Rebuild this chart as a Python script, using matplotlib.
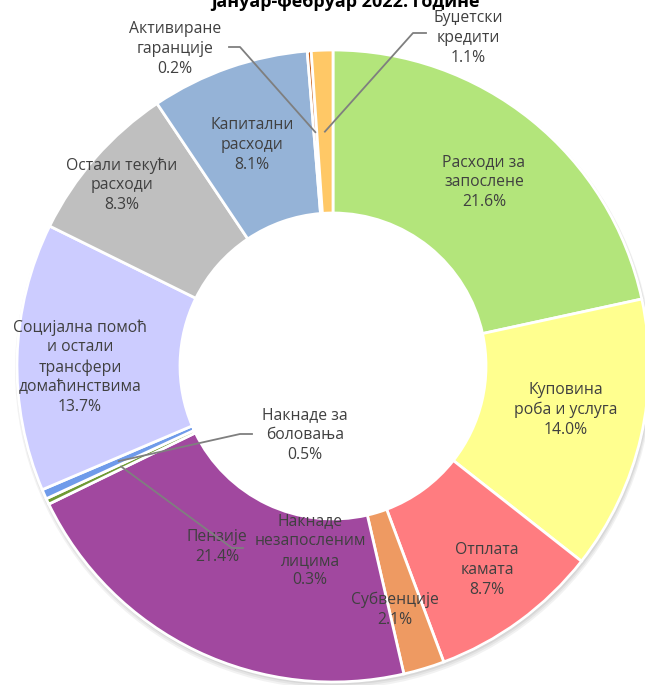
import matplotlib.pyplot as plt
import numpy as np

plt.rcParams['font.family'] = ['Open Sans', 'DejaVu Sans']

categories = ['Расходи за\nзапослене', 'Куповина\nроба и услуга', 'Отплата\nкамата',
              'Субвенције', 'Пензије', 'Накнаде\nнезапосленим\nлицима',
              'Накнаде за\nболовања', 'Социјална помоћ\nи остали\nтрансфери\nдомаћинствима',
              'Остали текући\nрасходи', 'Капитални\nрасходи', 'Активиране\nгаранције',
              'Буџетски\nкредити']
shares = [21.6, 14.0, 8.7, 2.1, 21.4, 0.3, 0.5, 13.7, 8.3, 8.1, 0.2, 1.1]
colors = ['#B3E57B', '#FFFF8F', '#FF7C80', '#EE9A62', '#A1489F', '#6E9A34',
          '#6F9BEA', '#CCCCFF', '#BFBFBF', '#95B3D7', '#C55A11', '#FFC866']

W, H = 645, 685
fig = plt.figure(figsize=(W / 100, H / 100), dpi=100)
ax = fig.add_axes([0, 0, 1, 1])

cx, cy = 333, H - 366
R, r_in = 316, 153

# soft shadow under the ring
for k, a in enumerate([0.05, 0.05, 0.06, 0.08]):
    ax.add_patch(plt.Circle((cx + 1, cy - 4 + k), R + 3 - k, color='black', alpha=a, lw=0, zorder=0))
ax.add_patch(plt.Circle((cx, cy), R, color='white', lw=0, zorder=0.5))

wedges, _ = ax.pie(shares, colors=colors, startangle=90, counterclock=False,
                   radius=R, center=(cx, cy), frame=True,
                   wedgeprops=dict(width=R - r_in, edgecolor='white', linewidth=2))
ax.set_xlim(0, W)
ax.set_ylim(0, H)
ax.set_aspect('equal')
ax.axis('off')

labels = [f'{c}\n{v:.1f}%' for c, v in zip(categories, shares)]
label_pos = [(484, 182), (566, 410), (487, 570), (395, 610), (217, 547), (310, 551),
             (305, 435), (80, 367), (122, 185), (252, 145), (175, 49), (468, 38)]
for lab, (px, py) in zip(labels, label_pos):
    ax.text(px, H - py, lab, ha='center', va='center', fontsize=11.3,
            color='#404040', linespacing=1.3)

# leader lines for the thin slices
def anchor(i):
    w = wedges[i]
    mid = np.deg2rad((w.theta1 + w.theta2) / 2)
    rm = (R + r_in) / 2
    return cx + rm * np.cos(mid), cy + rm * np.sin(mid)

leaders = {5: [(232, 548), (243, 548)], 6: [(240, 434), (252, 434)],
           10: [(240, 47), (229, 47)], 11: [(413, 33), (426, 33)]}
for i, pts in leaders.items():
    ax_, ay_ = anchor(i)
    xs = [ax_] + [p[0] for p in pts]
    ys = [ay_] + [H - p[1] for p in pts]
    ax.plot(xs, ys, color='#7F7F7F', lw=1.3, zorder=5)

ax.text(345, H - 2, 'јануар-фебруар 2022. године', ha='center', va='center',
        fontsize=13, fontweight='bold', color='black')

fig.savefig('out.png', dpi=100)
